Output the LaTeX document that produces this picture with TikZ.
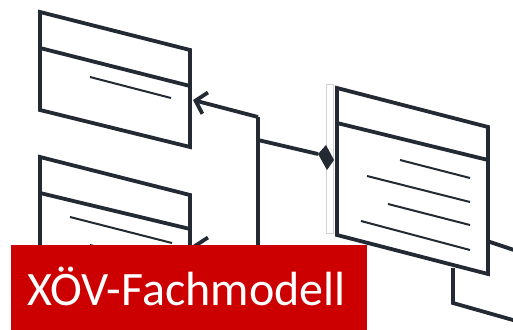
\documentclass[tikz,border=0pt]{standalone}
\usepackage{fontspec}
\setmainfont{Carlito}
\usetikzlibrary{arrows.meta}
\definecolor{umlline}{HTML}{232A33}
\definecolor{labelred}{HTML}{CC0000}
\tikzset{
  classbox/.style={draw=umlline, line width=3.8pt, fill=white},
  classsep/.style={draw=umlline, line width=3.8pt},
  attrline/.style={draw=umlline, line width=2pt},
  assoc/.style={draw=umlline, line width=3.8pt},
  navtip/.style={-{Straight Barb[length=10pt,width=22pt,line width=3.8pt]}}
}
\begin{document}
\begin{tikzpicture}[x=1pt,y=-1pt]
\useasboundingbox (0,0) rectangle (513,329);
\coordinate (j1) at (258,117);
\coordinate (j2) at (258,262);
\coordinate (j3) at (258,140);
\coordinate (a1) at (193,100);
\coordinate (a2) at (193,245);
\coordinate (d1) at (318,154);
\coordinate (r1) at (487,241);
\coordinate (r2) at (520,252);
\coordinate (b1) at (453,268);
\coordinate (b2) at (453,303);
\coordinate (b3) at (520,322);
\draw[assoc] (j1) -- (j2);
\draw[assoc] (j3) -- (d1);
\draw[assoc] (r1) -- (r2);
\draw[assoc] (b1) -- (b2) -- (b3);
\draw[classbox] (40,12) -- (190,50) -- (190,147) -- (40,110) -- cycle;
\draw[classsep] (40,48) -- (190,86);
\draw[attrline] (90,77) -- (171,98);
\draw[classbox] (40,157) -- (190,195) -- (190,292) -- (40,255) -- cycle;
\draw[classsep] (40,193) -- (190,229);
\draw[attrline] (70,217) -- (172,243);
\draw[attrline] (90,245) -- (170,266);
\draw[assoc, navtip] (j1) -- (a1);
\draw[assoc, navtip] (j2) -- (a2);
\draw[draw=gray!35, fill=white, line width=0.8pt] (326,84) rectangle (333,233);
\draw[classbox] (337,88) -- (488,127) -- (488,274) -- (337,235) -- cycle;
\draw[classsep] (337,123) -- (488,160);
\draw[attrline] (400,160) -- (470,178);
\draw[attrline] (367,176) -- (470,202);
\draw[attrline] (388,204) -- (470,225);
\draw[attrline] (361,221) -- (470,250);
\fill[umlline] (d1) -- (326,145) -- (334,160) -- (327,170) -- cycle;
\node[fill=labelred, inner sep=0pt, minimum width=356pt, minimum height=90pt, anchor=north west] (bar) at (11,245) {};
\node[text=white, font=\fontsize{48}{48}\selectfont, inner sep=0pt, anchor=base west] (title) at (27,305) {XÖV-Fachmodell};
\end{tikzpicture}
\end{document}
